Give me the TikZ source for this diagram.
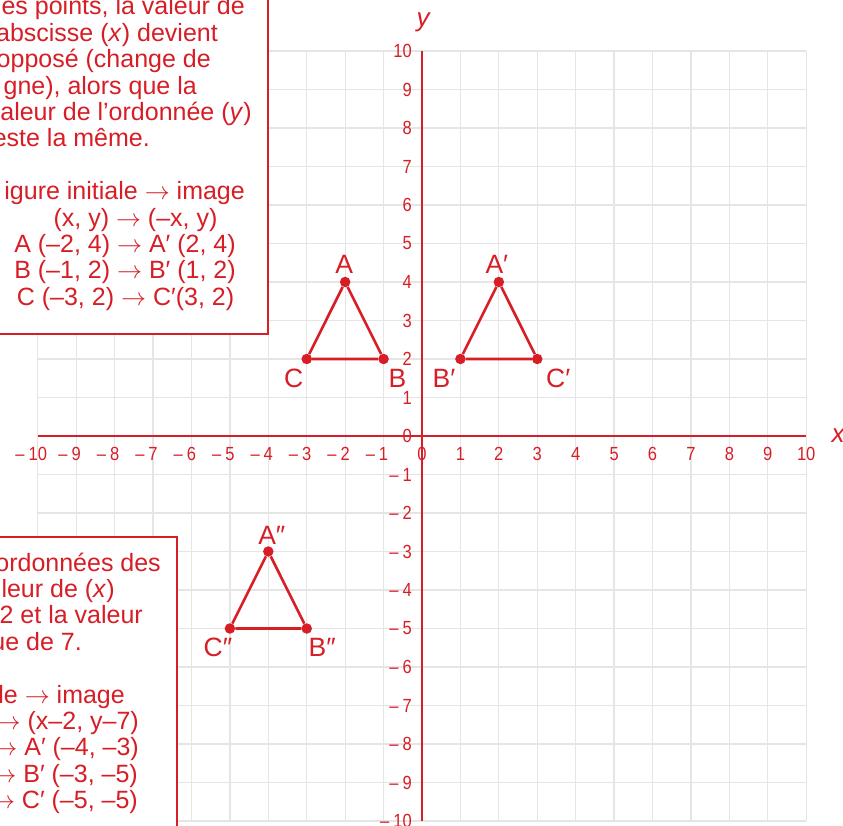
\RequirePackage{fix-cm}
\documentclass[tikz,border=0pt]{standalone}
\usepackage{fontspec}
\setmainfont{Liberation Sans}
\newfontfamily\axfont{Liberation Sans}[FakeStretch=0.87]
\definecolor{myred}{RGB}{215,30,38}
\definecolor{gridgray}{RGB}{229,229,229}
\newcommand{\ra}{$\rightarrow$}
\begin{document}
\begin{tikzpicture}[x=1pt,y=-1pt,
  txt/.style={font=\fontsize{25}{26.4}\selectfont, text=myred, inner sep=0pt},
  axlbl/.style={font=\axfont\fontsize{19}{19}\selectfont, text=myred, inner sep=0pt},
  ptlbl/.style={font=\fontsize{26.5}{26.5}\selectfont, text=myred, inner sep=0pt},
  axname/.style={font=\fontsize{26}{26}\selectfont\itshape, text=myred, inner sep=0pt},
  dot/.style={circle, fill=myred, inner sep=0pt, minimum size=10.5pt},
  infobox/.style={draw=myred, line width=1.5pt, fill=white},
  gridline/.style={draw=gridgray, line width=1.3pt},
  axisline/.style={draw=myred, line width=2.8pt},
  triline/.style={draw=myred, line width=2.6pt, line join=round},
]
\useasboundingbox (0,0) rectangle (843,826);
\fill[white] (0,0) rectangle (843,826);
\begin{scope}[shift={(422pt,-436pt)}, x=38.42pt, y=38.5pt]
  % grid
  \foreach \i in {-10,...,10} {
    \draw[gridline] (\i,-10) -- (\i,10);
    \draw[gridline] (-10,\i) -- (10,\i);
  }
  % axes
  \coordinate (xa) at (-10,0);
  \coordinate (xb) at (10,0);
  \coordinate (ya) at (0,10);
  \coordinate (yb) at (0,-10);
  \draw[axisline] (xa) -- (xb);
  \draw[axisline] (ya) -- (yb);
  \node[axname] (xname) at (10.83,0) {x};
  \node[axname] (yname) at (0.03,10.75) {y};
  % axis labels
  \foreach \i in {-10,...,10} {
    \node[axlbl, anchor=base, yshift=-24pt] (xl\i) at (\i,0)
      {\ifnum\i<0 \llap{–\hspace{4pt}}\the\numexpr-\i\relax\else\i\fi};
    \node[axlbl, anchor=east, xshift=-10pt] (yl\i) at (0,\i)
      {\ifnum\i<0 –\hspace{4pt}\the\numexpr-\i\relax\else\i\fi};
  }
  % triangle ABC
  \node[dot] (A) at (-2,4) {};
  \node[dot] (B) at (-1,2) {};
  \node[dot] (C) at (-3,2) {};
  \draw[triline] (A) -- (B) -- (C) -- (A);
  % triangle A'B'C'
  \node[dot] (A1) at (2,4) {};
  \node[dot] (B1) at (1,2) {};
  \node[dot] (C1) at (3,2) {};
  \draw[triline] (A1) -- (C1) -- (B1) -- (A1);
  % triangle A''B''C''
  \node[dot] (A2) at (-4,-3) {};
  \node[dot] (B2) at (-3,-5) {};
  \node[dot] (C2) at (-5,-5) {};
  \draw[triline] (A2) -- (B2) -- (C2) -- (A2);
  % point labels
  \node[ptlbl, xshift=-1pt, yshift=18pt] (lA) at (A) {A};
  \node[ptlbl, xshift=14pt, yshift=-19pt] (lB) at (B) {B};
  \node[ptlbl, xshift=-13pt, yshift=-19pt] (lC) at (C) {C};
  \node[ptlbl, xshift=-2pt, yshift=18pt] (lA1) at (A1) {A′};
  \node[ptlbl, xshift=-16.5pt, yshift=-19pt] (lB1) at (B1) {B′};
  \node[ptlbl, xshift=21pt, yshift=-19pt] (lC1) at (C1) {C′};
  \node[ptlbl, xshift=3.5pt, yshift=16pt] (lA2) at (A2) {A″};
  \node[ptlbl, xshift=15.5pt, yshift=-19pt] (lB2) at (B2) {B″};
  \node[ptlbl, xshift=-12pt, yshift=-19pt] (lC2) at (C2) {C″};
\end{scope}
% info boxes
\draw[infobox] (-10,-10) rectangle (268,334);
\draw[infobox] (-10,537) rectangle (177,840);
% top box text
\node[txt, anchor=base east] (t1) at (245,15) {es points, la valeur de};
\node[txt, anchor=base east] (t2) at (218,41.4) {abscisse (\textit{x}) devient};
\node[txt, anchor=base east] (t3) at (211,67.8) {opposé (change de};
\node[txt, anchor=base east] (t4) at (197,94.2) {gne), alors que la};
\node[txt, anchor=base east] (t5) at (252,120.6) {aleur de l’ordonnée (\textit{y})};
\node[txt, anchor=base east] (t6) at (150,147) {este la même.};
\node[txt, anchor=base east] (t7) at (245,199.8) {igure initiale \ra{} image};
\node[txt, anchor=base] (t8) at (135.5,226.2) {(x, y) \ra{} (–x, y)};
\node[txt, anchor=base] (t9) at (125,252.6) {A (–2, 4) \ra{} A′ (2, 4)};
\node[txt, anchor=base] (t10) at (125,279) {B (–1, 2) \ra{} B′ (1, 2)};
\node[txt, anchor=base] (t11) at (125.5,305.4) {C (–3, 2) \ra{} C′(3, 2)};
% bottom box text
\node[txt, anchor=base east] (b1) at (161,571) {ordonnées des};
\node[txt, anchor=base east] (b2) at (115,597.4) {leur de (\textit{x})};
\node[txt, anchor=base east] (b3) at (143,623.8) {2 et la valeur};
\node[txt, anchor=base east] (b4) at (82,650.2) {ue de 7.};
\node[txt, anchor=base east] (b5) at (125,703) {le \ra{} image};
\node[txt, anchor=base east] (b6) at (139,729.4) {\ra{} (x–2, y–7)};
\node[txt, anchor=base east] (b7) at (139,755.8) {\ra{} A′ (–4, –3)};
\node[txt, anchor=base east] (b8) at (138,782.2) {\ra{} B′ (–3, –5)};
\node[txt, anchor=base east] (b9) at (138,808.6) {\ra{} C′ (–5, –5)};
\end{tikzpicture}
\end{document}
